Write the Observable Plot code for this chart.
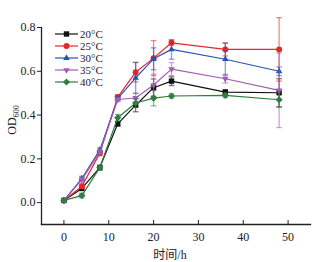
<!DOCTYPE html>
<html><head><meta charset="utf-8">
<script src="https://cdn.jsdelivr.net/npm/d3@7"></script>
<script src="https://cdn.jsdelivr.net/npm/@observablehq/plot@0.6"></script>
<style>
body{margin:0;background:#fff;}
svg{font-family:"Liberation Serif","Noto Sans CJK SC",serif;}
</style></head>
<body><div id="chart"></div>
<script>
const time = [0, 4, 8, 12, 16, 20, 24, 36, 48];
const seriesNames = ["20°C", "25°C", "30°C", "35°C", "40°C"];
const od20 = [0.01, 0.065, 0.16, 0.36, 0.445, 0.525, 0.555, 0.505, 0.502];
const od25 = [0.01, 0.075, 0.225, 0.482, 0.596, 0.66, 0.73, 0.70, 0.70];
const od30 = [0.01, 0.11, 0.24, 0.475, 0.57, 0.657, 0.70, 0.655, 0.60];
const od35 = [0.01, 0.105, 0.232, 0.471, 0.478, 0.537, 0.61, 0.566, 0.513];
const od40 = [0.01, 0.032, 0.16, 0.388, 0.455, 0.477, 0.487, 0.49, 0.47];
const err20 = [0.005, 0.01, 0.01, 0.01, 0.03, 0.04, 0.02, 0.01, 0.064];
const err25 = [0.005, 0.01, 0.01, 0.01, 0.045, 0.08, 0.01, 0.03, 0.145];
const err30 = [0.005, 0.01, 0.01, 0.01, 0.07, 0.05, 0.045, 0.073, 0.02];
const err35 = [0.005, 0.01, 0.01, 0.01, 0.02, 0.05, 0.03, 0.02, 0.17];
const err40 = [0.005, 0.01, 0.01, 0.015, 0.02, 0.035, 0.01, 0.01, 0.035];
const xTicks = [0, 10, 20, 30, 40, 50];
const yTicks = [0.0, 0.2, 0.4, 0.6, 0.8];

const colors = ["#111111", "#e8262b", "#2254b0", "#a35bb3", "#2f7d3f"];
const triDown = {draw(ctx, size){const r=Math.sqrt(size/Math.PI)*1.25;ctx.moveTo(0,r);ctx.lineTo(-r*0.866,-r/2);ctx.lineTo(r*0.866,-r/2);ctx.closePath();}};
const triUp = {draw(ctx, size){const r=Math.sqrt(size/Math.PI)*1.25;ctx.moveTo(0,-r);ctx.lineTo(-r*0.866,r/2);ctx.lineTo(r*0.866,r/2);ctx.closePath();}};
const square = {draw(ctx, size){const r=Math.sqrt(size/Math.PI)*0.9;ctx.rect(-r,-r,2*r,2*r);}};
const diamond = {draw(ctx, size){const r=Math.sqrt(size/Math.PI)*1.2;ctx.moveTo(0,-r);ctx.lineTo(r,0);ctx.lineTo(0,r);ctx.lineTo(-r,0);ctx.closePath();}};
const circle = {draw(ctx, size){const r=Math.sqrt(size/Math.PI);ctx.moveTo(r,0);ctx.arc(0,0,r,0,2*Math.PI);}};
const symbols = [square, circle, triUp, triDown, diamond];
const cap = {draw(ctx, size){ctx.moveTo(-2.8,0);ctx.lineTo(2.8,0);}};

const ods = [od20, od25, od30, od35, od40];
const errs = [err20, err25, err30, err35, err40];
const data = [];
seriesNames.forEach((s, i) => time.forEach((t, j) => data.push({s, i, t, v: ods[i][j], e: errs[i][j]})));

const marks = [
  Plot.frame({anchor: "left", stroke: "#222", strokeWidth: 1.3}),
  Plot.frame({anchor: "bottom", stroke: "#222", strokeWidth: 1.3}),
  Plot.axisY({ticks: yTicks, tickFormat: d3.format(".1f"), tickSize: 4, tickPadding: 2, fontSize: 12,
    label: "OD600", labelAnchor: "center", labelArrow: "none", labelOffset: 34}),
  Plot.axisX({ticks: xTicks, tickSize: 0, tickPadding: 8, fontSize: 12,
    label: "时间/h", labelAnchor: "center", labelArrow: "none", labelOffset: 34}),
  Plot.axisX({ticks: xTicks, tickSize: -4, text: null, label: null})
];
seriesNames.forEach((s, i) => {
  const d = data.filter(r => r.i === i);
  marks.push(
    Plot.link(d, {x1: "t", x2: "t", y1: r => r.v - r.e, y2: r => r.v + r.e, stroke: colors[i], strokeOpacity: 0.55, strokeWidth: 1.3}),
    Plot.dot(d, {x: "t", y: r => r.v - r.e, symbol: cap, stroke: colors[i], strokeOpacity: 0.55, strokeWidth: 1.3}),
    Plot.dot(d, {x: "t", y: r => r.v + r.e, symbol: cap, stroke: colors[i], strokeOpacity: 0.55, strokeWidth: 1.3}),
    Plot.line(d, {x: "t", y: "v", stroke: colors[i], strokeWidth: 1.2}),
    Plot.dot(d, {x: "t", y: "v", symbol: symbols[i], fill: colors[i], r: 3})
  );
});

const plot = Plot.plot({
  width: 320, height: 262,
  marginLeft: 41, marginRight: 10, marginTop: 27, marginBottom: 38,
  style: {fontFamily: "'Liberation Serif','Noto Sans CJK SC',serif", fontSize: "12px", color: "#222", background: "#fff"},
  x: {domain: [-5, 55]},
  y: {domain: [-0.1, 0.8]},
  marks
});
document.getElementById("chart").appendChild(plot);

const svg = d3.select(plot);
// y label with subscript
svg.selectAll('g[aria-label="y-axis label"] text').each(function() {
  const t = d3.select(this);
  t.text(null);
  t.attr("transform", (t.attr("transform") || "") + " translate(6,0)");
  t.append("tspan").text("OD");
  t.append("tspan").attr("font-size", 8).attr("dy", "0.35em").text("600");
});
// x label nudge
svg.selectAll('g[aria-label="x-axis label"] text').attr("dx", -6);

// legend
const lg = svg.append("g").attr("transform", "translate(55,34)");
seriesNames.forEach((s, i) => {
  const g = lg.append("g").attr("transform", `translate(0,${i * 12})`);
  g.append("line").attr("x1", 0).attr("x2", 23).attr("stroke", colors[i]).attr("stroke-width", 1.2);
  g.append("path").attr("transform", "translate(11.5,0)").attr("fill", colors[i])
    .attr("d", d3.symbol().type(symbols[i]).size(Math.PI * 9)());
  g.append("text").attr("x", 25).attr("dy", "0.35em").attr("text-anchor", "start")
    .attr("font-size", 11).attr("fill", "#222").text(s);
});
</script></body></html>
